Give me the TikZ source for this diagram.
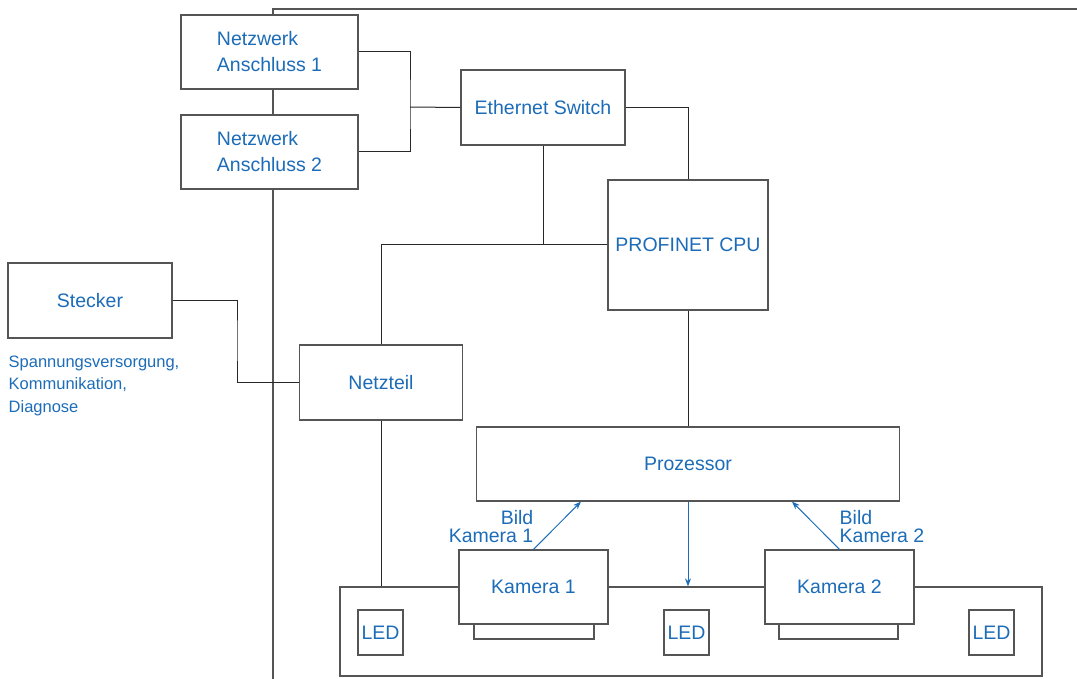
\documentclass[tikz,border=0pt]{standalone}
\usepackage{fontspec}
\setmainfont{Liberation Sans}
\usetikzlibrary{arrows.meta}
\definecolor{txtblue}{RGB}{28,108,184}
\definecolor{boxgray}{RGB}{85,85,85}
\definecolor{linegray}{RGB}{40,40,40}
\tikzset{
  blk/.style={draw=boxgray, line width=1.2pt, fill=white, text=txtblue, inner sep=0pt,
    font=\fontsize{19.5}{26}\selectfont},
  plainbox/.style={draw=boxgray, line width=1.2pt, fill=white, inner sep=0pt},
  conn/.style={draw=linegray, line width=1pt},
  arr/.style={draw=txtblue, line width=1pt, -{Stealth[length=8pt,width=6pt]}},
  lbl/.style={text=txtblue, inner sep=0pt, font=\fontsize{19.5}{18}\selectfont},
  captxt/.style={text=txtblue, inner sep=0pt, font=\fontsize{16.5}{22.5}\selectfont}
}
\begin{document}
\begin{tikzpicture}[x=1pt,y=-1pt]
\useasboundingbox (0,0) rectangle (1077,679);
% housing
\coordinate (fc) at (273,9);
\coordinate (fr) at (1077,9);
\coordinate (fb) at (273,679);
\draw[conn, draw=boxgray, line width=1.2pt] (fr) -- (fc) -- (fb);

% base plate and cameras
\node[plainbox, minimum width=702pt, minimum height=89pt] (base) at (691,631.5) {};
\node[plainbox, minimum width=120pt, minimum height=15pt] (lens1) at (534,631.5) {};
\node[plainbox, minimum width=119pt, minimum height=15pt] (lens2) at (838.5,631.5) {};
\node[blk, minimum width=149pt, minimum height=74pt] (k1) at (533.5,587) {Kamera 1};
\node[blk, minimum width=149pt, minimum height=74pt] (k2) at (839.5,587) {Kamera 2};
\node[blk, minimum width=45pt, minimum height=45pt] (led1) at (380.5,632.5) {LED};
\node[blk, minimum width=45pt, minimum height=45pt] (led2) at (686.5,632.5) {LED};
\node[blk, minimum width=45pt, minimum height=45pt] (led3) at (991.5,632.5) {LED};

% main blocks
\node[blk, minimum width=177pt, minimum height=74pt, align=left] (n1) at (269.5,52) {Netzwerk\\Anschluss 1};
\node[blk, minimum width=177pt, minimum height=74pt, align=left] (n2) at (269.5,152) {Netzwerk\\Anschluss 2};
\node[blk, minimum width=164pt, minimum height=75pt] (sw) at (543,107.5) {Ethernet Switch};
\node[blk, minimum width=160pt, minimum height=130pt] (cpu) at (688,245) {PROFINET CPU};
\node[blk, minimum width=164pt, minimum height=75pt] (st) at (90,300.5) {Stecker};
\node[blk, minimum width=163pt, minimum height=75pt] (nt) at (381,382.5) {Netzteil};
\node[blk, minimum width=423pt, minimum height=74pt] (pz) at (688,464) {Prozessor};

% caption
\node[captxt, anchor=north west, align=left] (capt) at (8.5,355.5) {Spannungsversorgung,\\Kommunikation,\\Diagnose};

% connectors
\coordinate (j) at (410,107);
\draw[conn] (n1.east) -| (j) |- (n2.east);
\draw[conn] (j) -- (sw.west);
\draw[conn] (sw.east) -| (cpu.north);
\draw[conn] (sw.south) -- (sw.south |- cpu.west);
\draw[conn] (cpu.west) -| (nt.north);
\coordinate (s) at (237,340);
\draw[conn] (st.east) -| (s) |- (nt.west);
\draw[conn] (nt.south) -- (nt.south |- base.north);
\draw[conn] (cpu.south) -- (pz.north);
\draw[arr] (pz.south) -- (pz.south |- base.north);
\coordinate (k1t) at ([xshift=47.5pt]k1.north);
\coordinate (k2t) at ([xshift=-47.5pt]k2.north);
\draw[arr] (k1.north) -- (k1t |- pz.south);
\draw[arr] (k2.north) -- (k2t |- pz.south);

% arrow labels
\node[lbl, anchor=south east, align=right] (l1) at (533.5,542.5) {Bild\\Kamera 1};
\node[lbl, anchor=south west, align=left] (l2) at (839.5,542.5) {Bild\\Kamera 2};
\end{tikzpicture}
\end{document}
